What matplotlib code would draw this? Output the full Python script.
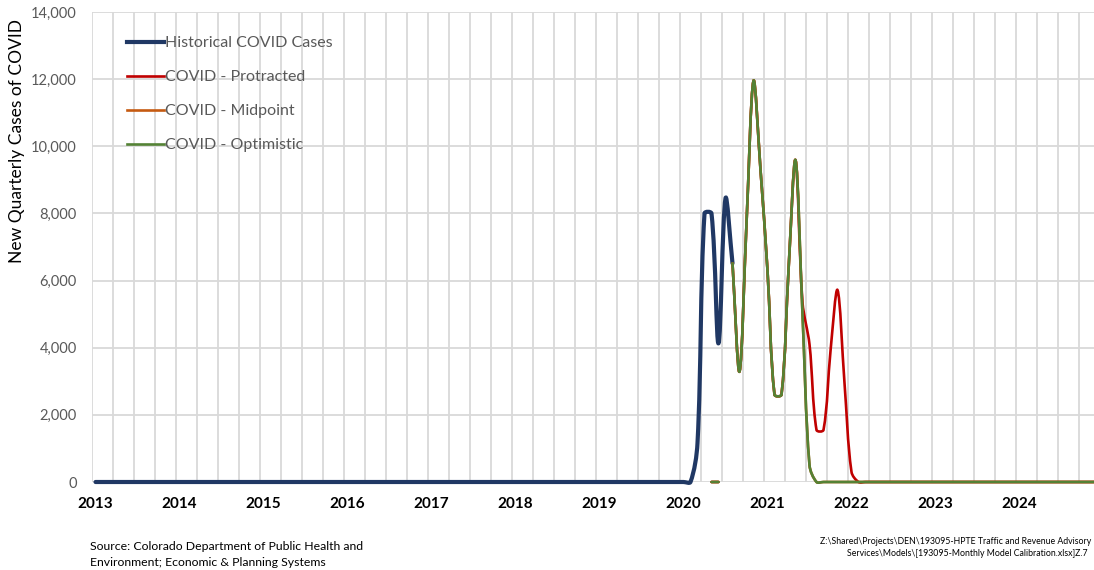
import numpy as np
import matplotlib.pyplot as plt
from matplotlib.path import Path
from matplotlib.patches import PathPatch
from matplotlib.lines import Line2D
from matplotlib.transforms import ScaledTranslation

plt.rcParams['font.family'] = ['Lato', 'DejaVu Sans']

# monthly data, month 0 = Jan 2013, axis runs to end of 2024
years = list(range(2013, 2025))
n_months = 144

# historical new cases, Jan 2013 - Aug 2020
historical = [0] * 86 + [1160, 8000, 8000, 4130, 8450, 6515]

# projections start May 2020 (month 88); None = blank cell
proj_start = 88
proj_common = [0, 0, None, 6515, 3290, 7700, 11950, 9300, 6300, 2600, 2600, 6300, 9590]
protracted_tail = [5350, 4100, 1550, 1550, 3900, 5720, 2950, 300]
midpoint_tail = [5000, 500]
optimistic_tail = [5000, 500]

labels = ["Historical COVID Cases", "COVID - Protracted", "COVID - Midpoint", "COVID - Optimistic"]
colors = ["#203864", "#C00000", "#C55A11", "#548235"]
widths = [3.0, 1.9, 1.9, 1.9]

W, H = 1094, 570
# pixel scale of the plot area, used so the smoothing behaves like excel's
PX_X = 1008 / n_months
PX_Y = 470 / 14000


def full_series(start, values):
    vals = list(values) + [0] * (n_months - start - len(values))
    x = np.arange(start, n_months) + 0.5
    return x, vals


def smooth_path(x, y):
    # bezier through the points, tangents scaled by chord length (screen space)
    pts = np.column_stack([np.asarray(x) * PX_X, np.asarray(y) * PX_Y]).astype(float)
    n = len(pts)
    verts, codes = [pts[0]], [Path.MOVETO]
    for i in range(1, n):
        p0 = pts[max(i - 2, 0)]
        p1 = pts[i - 1]
        p2 = pts[i]
        p3 = pts[min(i + 1, n - 1)]
        d01 = np.hypot(*(p1 - p0))
        d12 = np.hypot(*(p2 - p1))
        d23 = np.hypot(*(p3 - p2))
        c1 = p1 + (p2 - p0) * (d12 / (d01 + d12) if d01 + d12 else 0) / 3
        c2 = p2 - (p3 - p1) * (d12 / (d12 + d23) if d12 + d23 else 0) / 3
        verts += [c1, c2, p2]
        codes += [Path.CURVE4] * 3
    verts = np.array(verts) / [PX_X, PX_Y]
    return Path(verts, codes)


def draw_series(ax, x, vals, color, lw, z):
    run_x, run_y = [], []
    for xi, v in list(zip(x, vals)) + [(None, None)]:
        if v is None:
            if len(run_x) > 1:
                p = PathPatch(smooth_path(run_x, run_y), fill=False, edgecolor=color, lw=lw,
                              transform=ax.transData, clip_on=False, zorder=z,
                              capstyle='round', joinstyle='round')
                ax.add_patch(p)
            run_x, run_y = [], []
        else:
            run_x.append(xi)
            run_y.append(v)


fig = plt.figure(figsize=(W / 100, H / 100), dpi=100)
ax = fig.add_axes([92 / W, 88 / H, (1100 - 92) / W, 470 / H])

series = [
    (np.arange(len(historical)) + 0.5, historical),
    full_series(proj_start, proj_common + protracted_tail),
    full_series(proj_start, proj_common + midpoint_tail),
    full_series(proj_start, proj_common + optimistic_tail),
]
for k, (x, vals) in enumerate(series):
    draw_series(ax, x, vals, colors[k], widths[k], 3 + k)

ax.set_xlim(0, n_months)
ax.set_ylim(0, 14000)
ax.set_yticks(range(0, 14001, 2000))
ax.set_yticklabels([f"{v:,}" for v in range(0, 14001, 2000)], color="#595959", fontsize=10.5)
ax.set_xticks([12 * i for i in range(len(years))])
ax.set_xticklabels([str(y) for y in years], fontweight="bold", fontsize=11)
ax.set_xticks(range(0, n_months + 1, 3), minor=True)
ax.tick_params(axis="both", which="both", length=0)
ax.tick_params(axis="x", pad=11)
ax.tick_params(axis="y", pad=11)
ax.grid(True, which="both", axis="x", color="#D9D9D9", lw=1.3)
ax.grid(True, which="major", axis="y", color="#D9D9D9", lw=1.3)
ax.set_axisbelow(True)
for s in ax.spines.values():
    s.set_visible(False)
for lbl in ax.get_xticklabels():
    lbl.set_transform(lbl.get_transform() + ScaledTranslation(3 / 100, 0, fig.dpi_scale_trans))

fig.text(17 / W, 1 - 141 / H, "New Quarterly Cases of COVID", rotation=90, fontsize=12.5,
         ha="center", va="center")

handles = [Line2D([], [], color=c, lw=w) for c, w in zip(colors, widths)]
ax.legend(handles, labels, loc="upper left", bbox_to_anchor=(127 / W, 1 - 36 / H),
          bbox_transform=fig.transFigure, frameon=False, fontsize=11.5, labelcolor="#595959",
          handlelength=2.3, handletextpad=0.1, labelspacing=1.24, borderpad=0, borderaxespad=0)

fig.text(90 / W, 1 - 546 / H, "Source: Colorado Department of Public Health and", fontsize=8.85, va="center")
fig.text(90 / W, 1 - 562 / H, "Environment; Economic & Planning Systems", fontsize=8.85, va="center")
fig.text(820 / W, 1 - 542 / H, "Z:\\Shared\\Projects\\DEN\\193095-HPTE Traffic and Revenue Advisory",
         fontsize=6.3, va="center")
fig.text(847 / W, 1 - 553 / H, "Services\\Models\\[193095-Monthly Model Calibration.xlsx]Z.7",
         fontsize=6.3, va="center")

fig.savefig("out.png", dpi=100)
